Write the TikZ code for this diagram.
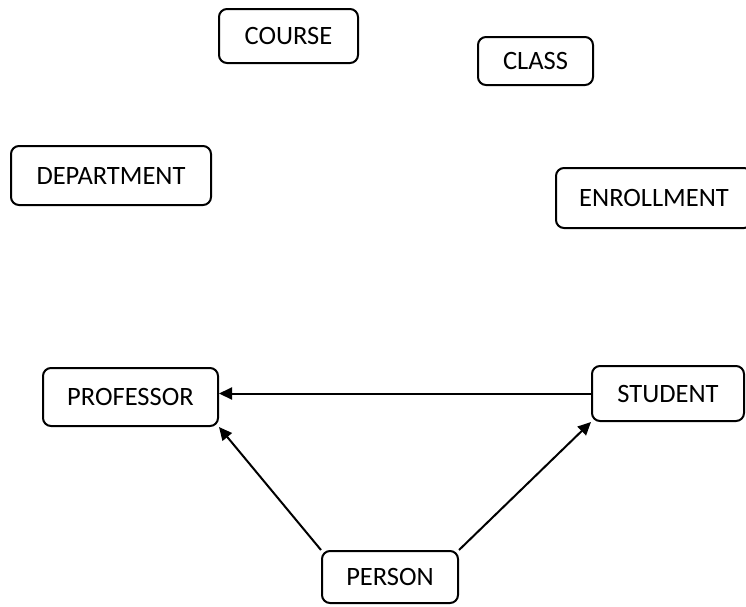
\documentclass[tikz,border=0pt]{standalone}
\usepackage{fontspec}
\setmainfont{Carlito}
\usetikzlibrary{arrows.meta}
\begin{document}
\begin{tikzpicture}[x=1pt,y=-1pt,
  entity/.style={draw=black, line width=2pt, rounded corners=8pt, fill=white,
    inner sep=0pt, font=\fontsize{26.5}{30}\selectfont, text=black},
  link/.style={line width=2pt, -{Triangle[length=13pt,width=12pt]}}]
\useasboundingbox (0,0) rectangle (746,606);
\clip (0,0) rectangle (746,606);
\node[entity, minimum width=139, minimum height=54] (course) at (288.5,36) {COURSE};
\node[entity, minimum width=115, minimum height=48] (class) at (535.5,61) {CLASS};
\node[entity, minimum width=200, minimum height=59] (dept) at (111,175.5) {DEPARTMENT};
\node[entity, minimum width=196, minimum height=60] (enroll) at (654,198) {ENROLLMENT};
\node[entity, minimum width=175, minimum height=58] (prof) at (130.5,397) {PROFESSOR};
\node[entity, minimum width=152, minimum height=55] (student) at (668,393.5) {STUDENT};
\node[entity, minimum width=136, minimum height=52] (person) at (390,577) {PERSON};
\draw[link] (student.west) -- (prof.east |- student.west);
\draw[link] (person.north west) -- (prof.south east);
\draw[link] (person.north east) -- (student.south west);
\end{tikzpicture}
\end{document}
